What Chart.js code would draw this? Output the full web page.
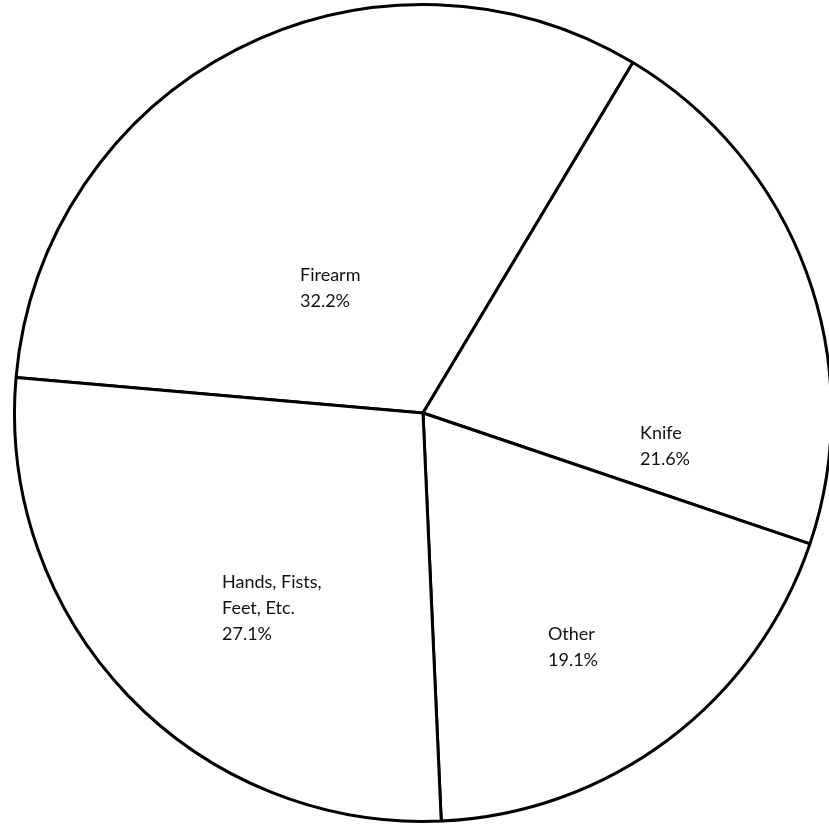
<!DOCTYPE html>
<html>
<head>
<meta charset="utf-8">
<script src="https://cdn.jsdelivr.net/npm/chart.js@4.4.1/dist/chart.umd.min.js"></script>
<style>
  html, body { margin: 0; padding: 0; background: #fff; overflow: hidden; }
  #wrap { width: 846px; height: 824px; }
</style>
</head>
<body>
<div id="wrap"><canvas id="pie"></canvas></div>
<script>
// data
const categories = ['Firearm', 'Knife', 'Other', 'Hands, Fists, Feet, Etc.'];
const shares = [32.2, 21.6, 19.1, 27.1];
// text lines shown inside each slice
const labelLines = [
  ['Firearm', '32.2%'],
  ['Knife', '21.6%'],
  ['Other', '19.1%'],
  ['Hands, Fists,', 'Feet, Etc.', '27.1%']
];

// where each text block sits, offset from the pie centre (px, top-left of first line)
const labelOffsets = [
  [-123, -138],
  [217, 20],
  [125, 221],
  [-201, 169]
];

const sliceLabels = {
  id: 'sliceLabels',
  afterDatasetsDraw(chart) {
    const ctx = chart.ctx;
    const arc = chart.getDatasetMeta(0).data[0];
    ctx.save();
    ctx.fillStyle = '#111';
    ctx.font = '18px Lato, "Open Sans", sans-serif';
    ctx.textAlign = 'left';
    ctx.textBaseline = 'middle';
    labelLines.forEach((lines, i) => {
      const [dx, dy] = labelOffsets[i];
      lines.forEach((line, j) => {
        ctx.fillText(line, arc.x + dx, arc.y + dy + j * 26);
      });
    });
    ctx.restore();
  }
};

new Chart(document.getElementById('pie'), {
  type: 'pie',
  data: {
    labels: categories,
    datasets: [{
      data: shares,
      backgroundColor: '#fff',
      borderColor: '#000',
      borderWidth: 3
    }]
  },
  options: {
    responsive: true,
    maintainAspectRatio: false,
    animation: false,
    rotation: 275,
    layout: {
      padding: { left: 13, right: 13, top: 3, bottom: 1 }
    },
    plugins: {
      legend: { display: false },
      tooltip: { enabled: false }
    }
  },
  plugins: [sliceLabels]
});
</script>
</body>
</html>
